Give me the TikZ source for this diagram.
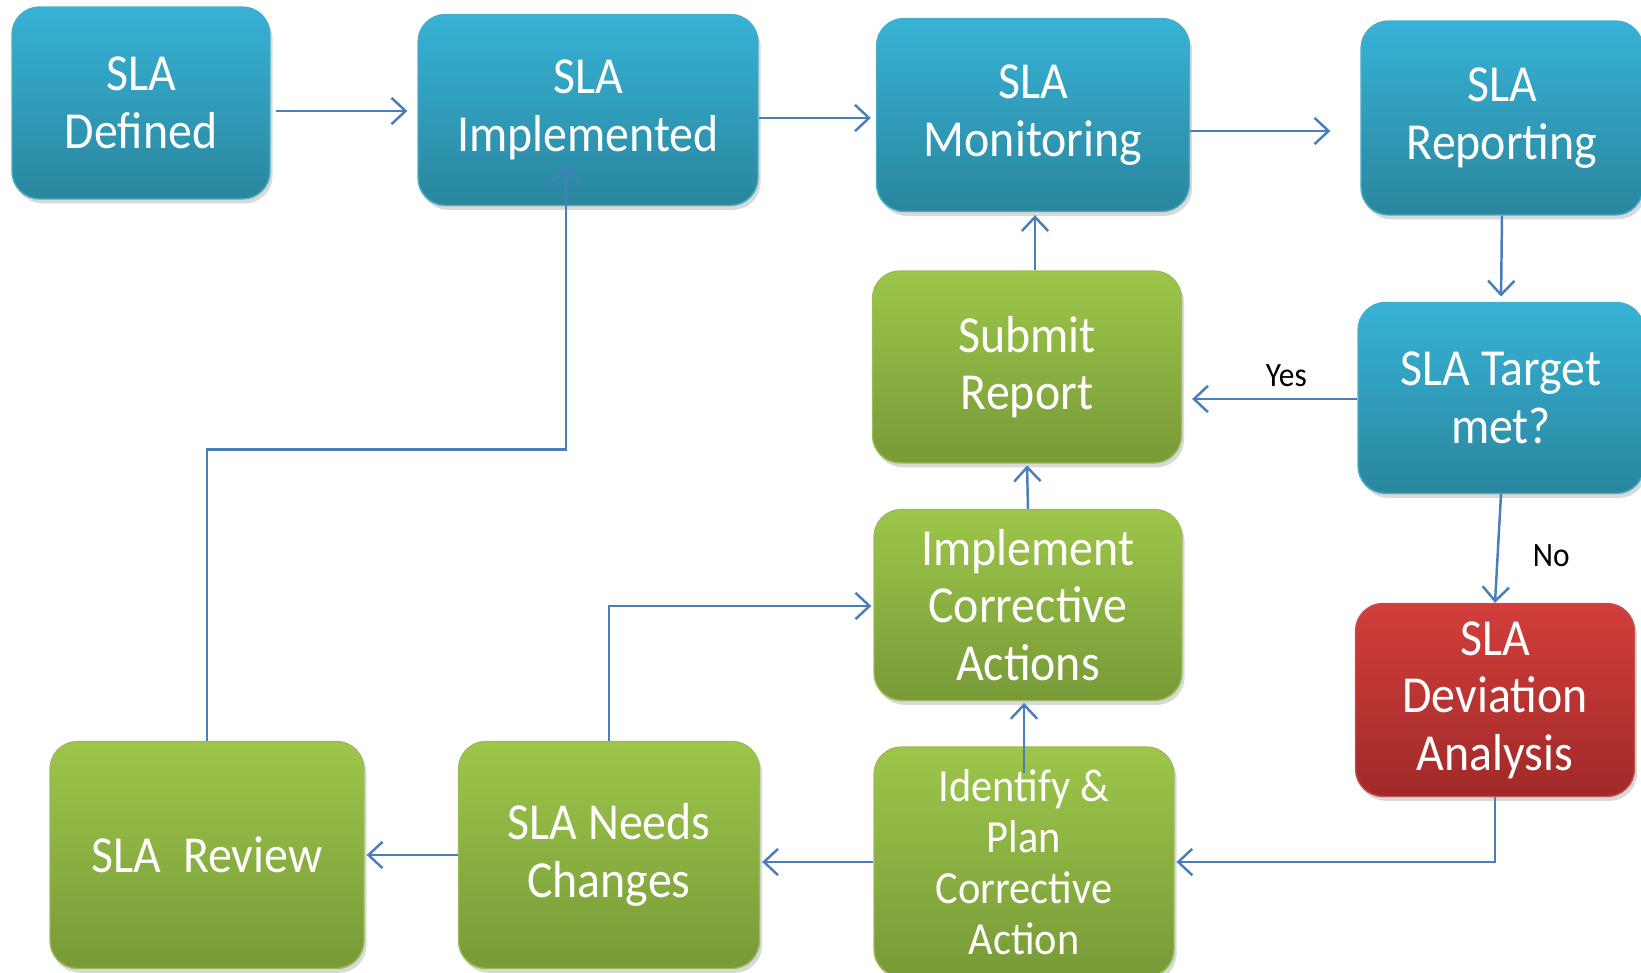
\documentclass[tikz,border=0pt]{standalone}
\usepackage{fontspec}
\setmainfont{Carlito}[FakeStretch=0.92]
\usetikzlibrary{positioning}
\usetikzlibrary{arrows.meta}
\usetikzlibrary{calc}
\usetikzlibrary{shadows}

\definecolor{bluetop}{HTML}{37B2D6}
\definecolor{bluebot}{HTML}{2A869E}
\definecolor{blueedge}{HTML}{4BACC6}
\definecolor{greentop}{HTML}{9DC64A}
\definecolor{greenbot}{HTML}{789A38}
\definecolor{greenedge}{HTML}{9BBB59}
\definecolor{redtop}{HTML}{D23E3B}
\definecolor{redbot}{HTML}{A02A28}
\definecolor{rededge}{HTML}{C0504D}
\definecolor{linkblue}{HTML}{4A7EBB}

\begin{document}
\begin{tikzpicture}[x=0.02cm,y=-0.02cm,
	box/.style={rectangle,rounded corners=0.55cm,thick,drop shadow={opacity=0.3,shadow xshift=1.5pt,shadow yshift=-2.5pt},align=center,text=white,font=\fontsize{29.6}{32.7}\selectfont},
	stage/.style={box,draw=blueedge,top color=bluetop,bottom color=bluebot},
	action/.style={box,draw=greenedge,top color=greentop,bottom color=greenbot},
	fault/.style={box,draw=rededge,top color=redtop,bottom color=redbot},
	flow/.style={draw=linkblue,line width=1.4pt,-{Straight Barb[length=8pt,width=15pt,line width=1.4pt]}},
	answer/.style={text=black,font=\fontsize{19.4}{22}\selectfont}]
	\useasboundingbox (0,0) rectangle (1641,973);

	\node[stage,minimum width=5.16cm,minimum height=3.84cm] (defined) at (141,103) {SLA\\Defined};
	\node[stage,minimum width=6.8cm,minimum height=3.82cm] (implemented) at (588,110) {SLA\\Implemented};
	\node[stage,minimum width=6.26cm,minimum height=3.86cm] (monitoring) at (1033,115) {SLA\\Monitoring};
	\node[stage,minimum width=5.64cm,minimum height=3.88cm] (reporting) at (1502,118) {SLA\\Reporting};
	\node[action,minimum width=6.18cm,minimum height=3.84cm] (submit) at (1027,367) {Submit\\Report};
	\node[stage,minimum width=5.72cm,minimum height=3.82cm] (target) at (1501,398) {SLA Target\\met?};
	\node[action,minimum width=6.16cm,minimum height=3.82cm] (corrective) at (1028,605) {Implement\\Corrective\\Actions};
	\node[fault,minimum width=5.58cm,minimum height=3.86cm] (deviation) at (1495,700) {SLA\\Deviation\\Analysis};
	\node[action,minimum width=6cm,minimum height=4.6cm,font=\fontsize{26.2}{29}\selectfont] (identify) at (1024,862) {Identify \&\\Plan\\Corrective\\Action};
	\node[action,minimum width=6.28cm,minimum height=4.54cm] (review) at (207,855) {SLA\ \ Review};
	\node[action,minimum width=6.02cm,minimum height=4.54cm] (needs) at (609,855) {SLA Needs\\Changes};

	% top row
	\draw[flow] ($(defined.east)+(5,8)$) -- ($(implemented.west)+(-10,1)$);
	\draw[flow] ($(implemented.east)+(0,8)$) -- ($(monitoring.west)+(-5,3)$);
	\draw[flow] ($(monitoring.east)+(0,16)$) -- ($(reporting.west)+(-30,13)$);
	\draw[flow,shorten >=3pt] (reporting.south) -- (target.north);

	% decision
	\draw[flow] ($(target.west)+(0,1)$) -- node[answer,pos=0.43,above=3pt] (yes) {Yes} ($(submit.east)+(10,32)$);
	\draw[flow] (target.south) -- node[answer,pos=0.57,right=16pt] (no) {No} (deviation.north);
	\draw[flow,shorten >=1pt] (deviation.south) |- (identify.east);

	% corrective loop
	\draw[flow,shorten >=1pt] ($(identify.north)+(0,27)$) -- (identify.north |- corrective.south);
	\draw[flow,shorten >=1pt] (corrective.north) -- (submit.south);
	\draw[flow] ($(submit.north)+(8,0)$) -- ($(monitoring.south)+(2,3)$);
	\draw[flow] (identify.west) -- ($(needs.east)+(2,7)$);
	\draw[flow] (needs.west) -- ($(review.east)+(2,0)$);
	\draw[flow] (needs.north) |- ($(corrective.west)+(-2,1)$);
	\draw[flow] (review.north) -- ++(0,-291.5) -| ($(implemented.center)+(-22,55)$);
\end{tikzpicture}
\end{document}
